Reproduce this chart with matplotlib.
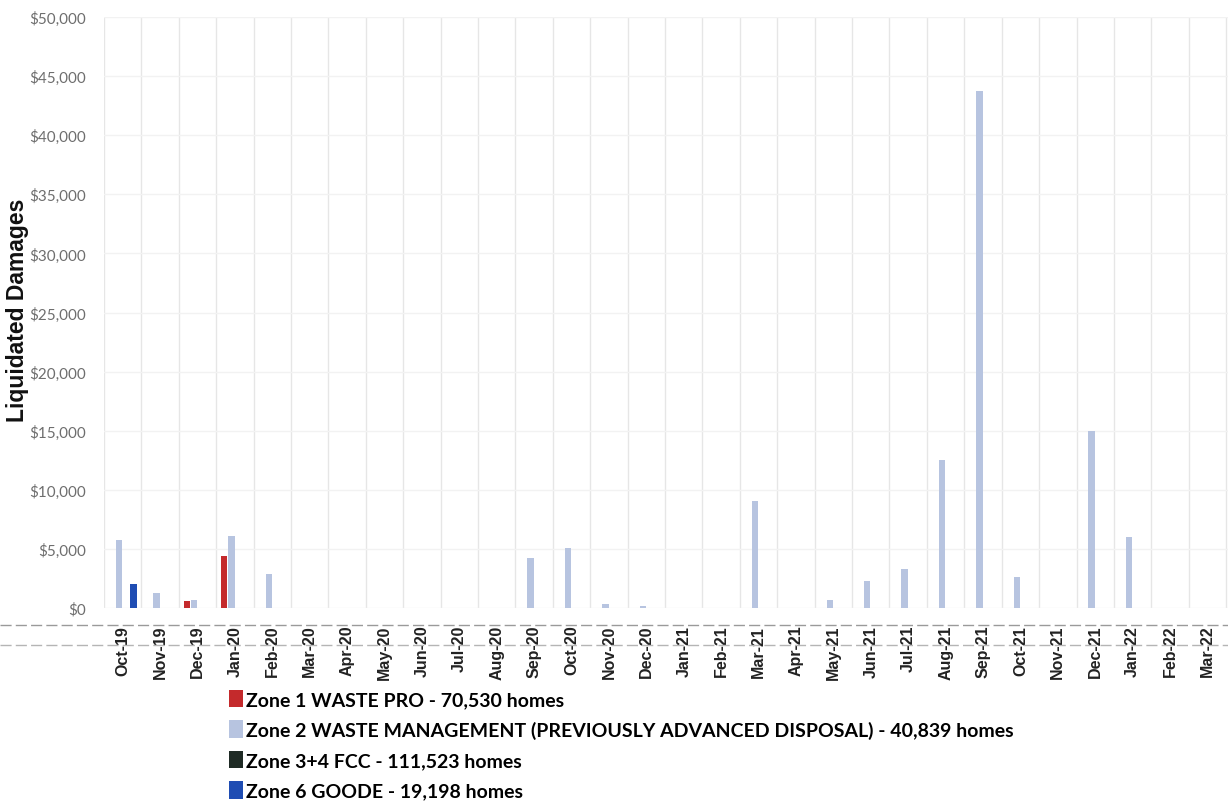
import numpy as np
import matplotlib
matplotlib.use("Agg")
import matplotlib.pyplot as plt
from matplotlib.patches import Patch
from matplotlib.lines import Line2D
from matplotlib.ticker import FuncFormatter, MultipleLocator

#%% datos

meses = ["Oct-19", "Nov-19", "Dec-19", "Jan-20", "Feb-20", "Mar-20", "Apr-20", "May-20",
         "Jun-20", "Jul-20", "Aug-20", "Sep-20", "Oct-20", "Nov-20", "Dec-20", "Jan-21",
         "Feb-21", "Mar-21", "Apr-21", "May-21", "Jun-21", "Jul-21", "Aug-21", "Sep-21",
         "Oct-21", "Nov-21", "Dec-21", "Jan-22", "Feb-22", "Mar-22"]

zona1 = [0, 0, 600, 4400, 0, 0, 0, 0, 0, 0, 0, 0, 0, 0, 0,
         0, 0, 0, 0, 0, 0, 0, 0, 0, 0, 0, 0, 0, 0, 0]
zona2 = [5750, 1250, 700, 6100, 2900, 0, 0, 0, 0, 0, 0, 4250, 5100, 300, 200,
         0, 0, 9050, 0, 700, 2300, 3300, 12500, 43700, 2600, 0, 15000, 6000, 0, 0]
zona34 = [0] * 30
zona6 = [2050, 0, 0, 0, 0, 0, 0, 0, 0, 0, 0, 0, 0, 0, 0,
         0, 0, 0, 0, 0, 0, 0, 0, 0, 0, 0, 0, 0, 0, 0]

nombres = ["Zone 1 WASTE PRO - 70,530 homes",
           "Zone 2 WASTE MANAGEMENT (PREVIOUSLY ADVANCED DISPOSAL) - 40,839 homes",
           "Zone 3+4 FCC - 111,523 homes",
           "Zone 6 GOODE - 19,198 homes"]
colores = ["#c42a2c", "#b7c4e0", "#1f2b25", "#1f4db3"]

#%% grafico

fuente_angosta = ["Lato", "DejaVu Sans"]

fig = plt.figure(figsize=(12.28, 8.03), dpi=100)
ax = fig.add_axes([104 / 1228, 1 - 609 / 803, 1 - 104 / 1228, (609 - 18) / 803])

x = np.arange(len(meses))
paso = 0.19
ancho = 0.17
for k, (serie, color) in enumerate(zip([zona1, zona2, zona34, zona6], colores)):
    ax.bar(x + (k - 1.5) * paso, serie, width=ancho, color=color, zorder=3)

ax.set_xlim(-0.5, len(meses) - 0.45)
ax.set_ylim(0, 50000)
ax.yaxis.set_major_locator(MultipleLocator(5000))
ax.yaxis.set_major_formatter(FuncFormatter(lambda v, p: "${:,.0f}".format(v)))

ax.set_xticks(x)
ax.set_xticklabels(meses, rotation=90, fontsize=11.5, fontweight="bold",
                   color="#222222", family=["Liberation Sans", "DejaVu Sans"])
ax.set_xticks(np.arange(-0.5, len(meses), 1), minor=True)
ax.tick_params(axis="x", which="both", length=0, pad=12)
ax.tick_params(axis="y", length=0, pad=13, labelsize=11, labelcolor="#6e6e6e")
for t in ax.get_yticklabels():
    t.set_family(fuente_angosta)

ax.grid(axis="x", which="minor", color="#e6e6e6", lw=1, zorder=0)
ax.grid(axis="y", which="major", color="#f2f2f2", lw=1, zorder=0)
for s in ax.spines.values():
    s.set_visible(False)

fig.text(18 / 1228, 1 - 310 / 803, "Liquidated Damages", rotation=90, ha="center", va="center",
         fontsize=16.5, fontweight="bold", color="#111111",
         family=["Liberation Sans", "DejaVu Sans"])

# lineas del escaneo debajo del eje
fig.add_artist(Line2D([0, 1], [1 - 626 / 803] * 2, color="#9a9a9a", lw=1, ls=(0, (8, 3))))
fig.add_artist(Line2D([0, 1], [1 - 646 / 803] * 2, color="#b5b5b5", lw=1, ls=(0, (8, 3))))

manijas = [Patch(facecolor=c, edgecolor="none") for c in colores]
fig.legend(manijas, nombres, loc="upper left", bbox_to_anchor=(229 / 1228, 1 - 691 / 803),
           frameon=False, handlelength=0.7, handleheight=1.0, handletextpad=0.15,
           labelspacing=0.62, borderaxespad=0, borderpad=0,
           prop={"family": fuente_angosta, "weight": "bold", "size": 14})

fig.savefig("out.png", dpi=100)
